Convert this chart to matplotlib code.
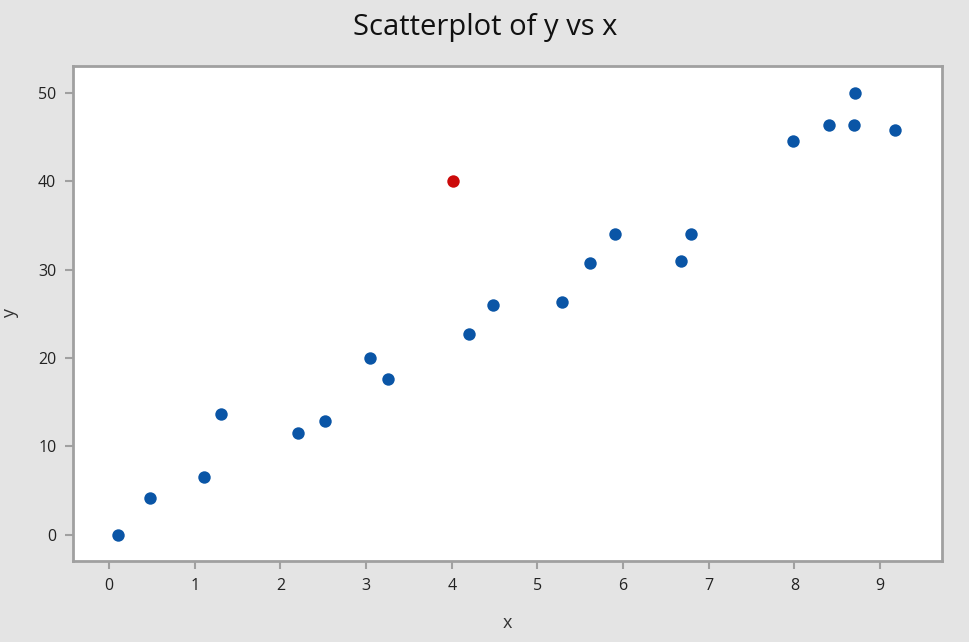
import numpy as np
import matplotlib.pyplot as plt

x = [0.10, 0.48, 1.11, 1.31, 2.20, 2.52, 3.05, 3.26, 4.20, 4.48,
     5.29, 5.61, 5.91, 6.68, 6.79, 7.98, 8.40, 8.69, 8.71, 9.17]
y = [0.0, 4.2, 6.6, 13.7, 11.5, 12.9, 20.0, 17.6, 22.7, 26.0,
     26.3, 30.7, 34.0, 31.0, 34.0, 44.5, 46.4, 46.4, 50.0, 45.8]
x_out = [4.02]
y_out = [40.0]

plt.rcParams['font.family'] = ['Open Sans', 'DejaVu Sans']

fig = plt.figure(figsize=(9.7, 6.42), dpi=100)
fig.patch.set_facecolor('#e4e4e4')
ax = fig.add_axes([0.0753, 0.1262, 0.8957, 0.7708])
ax.set_facecolor('white')

ax.scatter(x, y, s=80, color='#0a55a6', zorder=3, linewidths=0)
ax.scatter(x_out, y_out, s=80, color='#cc0a0a', zorder=3, linewidths=0)

ax.set_xlim(-0.42, 9.72)
ax.set_ylim(-2.95, 53.0)
ax.set_xticks(range(0, 10))
ax.set_yticks([0, 10, 20, 30, 40, 50])

for s in ax.spines.values():
    s.set_color('#a0a0a0')
    s.set_linewidth(2)
ax.tick_params(direction='out', length=6, width=1.5, color='#a0a0a0',
               labelsize=11.5, labelcolor='#222222', pad=6)

ax.set_xlabel('x', fontsize=13, color='#333333', labelpad=15)
ax.set_ylabel('y', fontsize=13, color='#333333', labelpad=14)
fig.suptitle('Scatterplot of y vs x', fontsize=21, color='#111111', y=0.98)

plt.savefig('out.png', dpi=100, facecolor=fig.get_facecolor())
